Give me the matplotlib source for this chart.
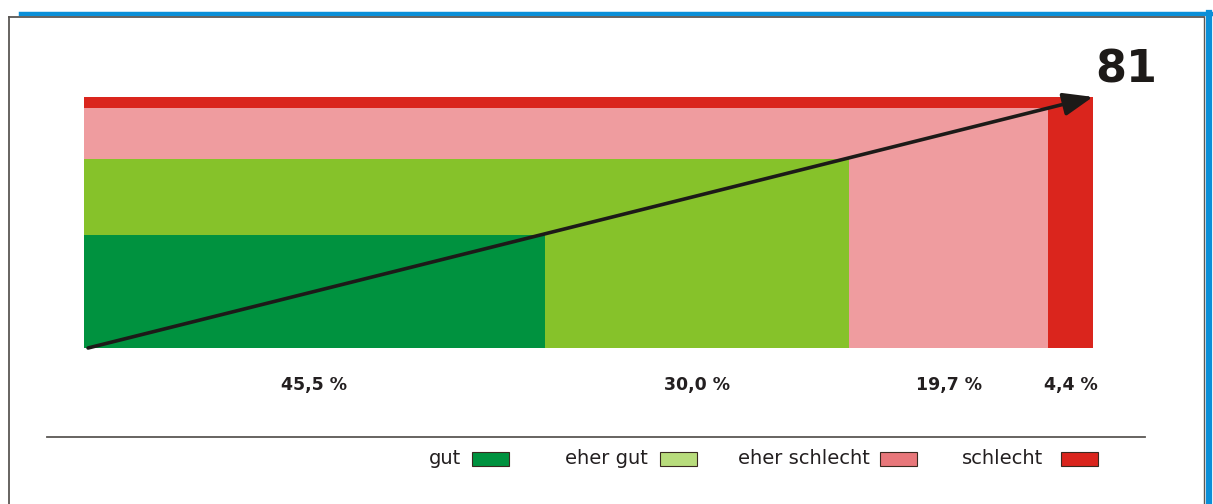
import matplotlib
matplotlib.use("Agg")
from matplotlib import pyplot as plt
from matplotlib.lines import Line2D
from matplotlib.patches import Rectangle

categories = ['gut', 'eher gut', 'eher schlecht', 'schlecht']
shares = [45.5, 30.0, 19.7, 4.4]
levels = [36.5, 61.0, 77.4, 81.0]
pct_labels = ['45,5 %', '30,0 %', '19,7 %', '4,4 %']
index_value = 81

bar_colors = ['#00923f', '#86c22a', '#ef9c9f', '#da251d']
legend_colors = ['#00923f', '#b8dc7c', '#e8777a', '#da251d']

W, H = 1213, 504
plt.rcParams['font.family'] = ['DejaVu Sans']
fig = plt.figure(figsize=(W / 100, H / 100), dpi=100)

def fx(px):
    return px / W

def fy(py):
    return 1 - py / H

# frame
fig.add_artist(Line2D([fx(21), fx(1213)], [fy(14), fy(14)], color='#0a8fd8', lw=3.2))
fig.add_artist(Line2D([fx(1209), fx(1209)], [fy(13), fy(504)], color='#0a8fd8', lw=4.5))
fig.add_artist(Line2D([fx(9), fx(1204)], [fy(17), fy(17)], color='#5a5754', lw=1.3))
fig.add_artist(Line2D([fx(9), fx(9)], [fy(17), fy(504)], color='#5a5754', lw=1.3))
fig.add_artist(Line2D([fx(1204), fx(1204)], [fy(17), fy(504)], color='#5a5754', lw=1.0))

# main area: 100 % wide, 100 units high
x0, y0 = 84, 348
px_per_pct = 10.13
px_per_unit = 3.1
ax = fig.add_axes([fx(x0), fy(y0), 100 * px_per_pct / W, 100 * px_per_unit / H])
ax.set_xlim(0, 100)
ax.set_ylim(0, 100)
ax.axis('off')

cum = []
total = 0
for s in shares:
    total += s
    cum.append(total)

# widest (topmost level) first so the narrower ones sit in front
for i in reversed(range(len(shares))):
    ax.bar(0, levels[i], width=cum[i], align='edge', color=bar_colors[i], lw=0)

for i, lab in enumerate(pct_labels):
    left = cum[i] - shares[i]
    ax.text(left + shares[i] / 2, -12, lab, ha='center', va='center',
            fontsize=12.5, fontweight='bold', color='#231f20')

ax.annotate('', xy=(cum[-1], levels[-1]), xytext=(0.4, 0),
            arrowprops=dict(arrowstyle='-|>,head_length=1.8,head_width=0.7',
                            color='#1d1a18', lw=2.6, shrinkA=0, shrinkB=0),
            annotation_clip=False)
ax.text(cum[-1] + 3.3, levels[-1] + 8.8, str(index_value), ha='center', va='center',
        fontsize=32, fontweight='bold', color='#1d1a18')

# separator line
fig.add_artist(Line2D([fx(47), fx(1145)], [fy(437), fy(437)], color='#5a5754', lw=1.3))

# legend
text_right = [461, 648, 870, 1043]
box_left = [472, 660, 880, 1061]
for i, cat in enumerate(categories):
    fig.text(fx(text_right[i]), fy(458), cat, ha='right', va='center',
             fontsize=14, color='#231f20')
    fig.add_artist(Rectangle((fx(box_left[i]), fy(466)), 37 / W, 14 / H,
                             facecolor=legend_colors[i], edgecolor='#3a2a20', lw=0.8))

fig.savefig('out.png', dpi=100)
